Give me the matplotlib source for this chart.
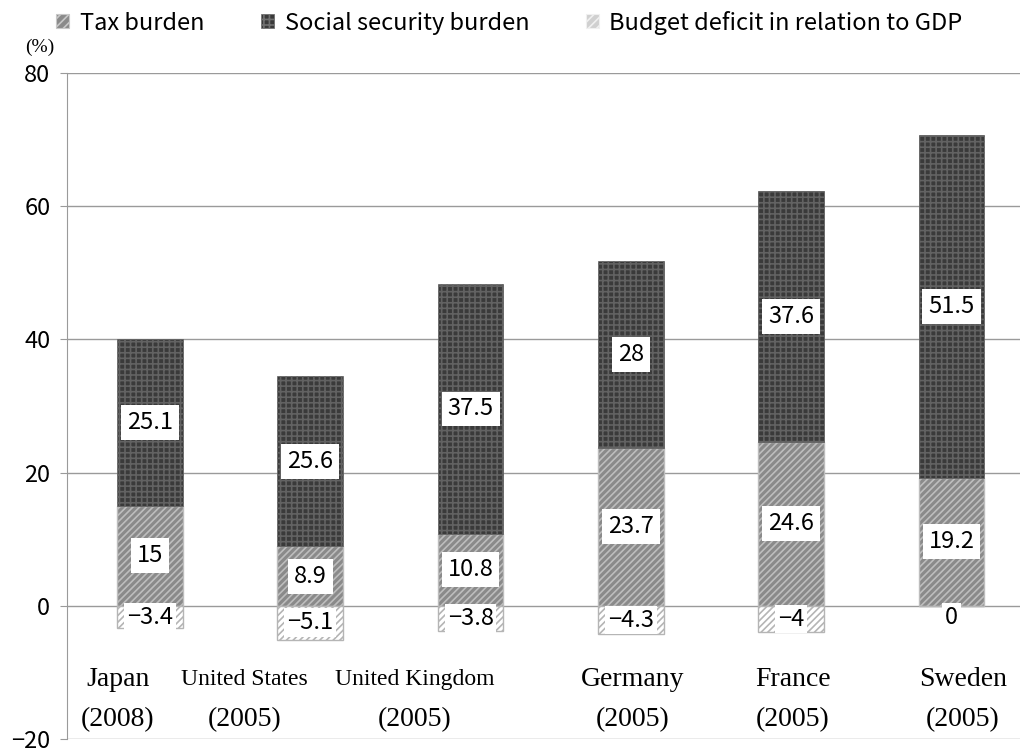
import numpy as np
import matplotlib.pyplot as plt
from matplotlib.patches import Patch

plt.rcParams['font.family'] = ['Noto Sans CJK JP', 'DejaVu Sans']
plt.rcParams['hatch.linewidth'] = 1.2

# Data
countries = ['Japan', 'United States', 'United Kingdom', 'Germany', 'France', 'Sweden']
years = ['(2008)', '(2005)', '(2005)', '(2005)', '(2005)', '(2005)']
tax = [15, 8.9, 10.8, 23.7, 24.6, 19.2]
social = [25.1, 25.6, 37.5, 28, 37.6, 51.5]
deficit = [-3.4, -5.1, -3.8, -4.3, -4, 0]

# label placement (manual, like the original text boxes)
name_dx = [-0.2, -0.41, -0.35, 0.01, 0.01, 0.07]
name_size = [20, 17, 17, 20, 20, 20]

x = np.arange(len(countries))
w = 0.41

fig = plt.figure(figsize=(10.23, 7.51), dpi=100)
ax = fig.add_axes([0.0655, 0.016, 0.932, 0.887])

tax_style = dict(color='#8a8a8a', edgecolor='#bdbdbd', hatch='/////', linewidth=1)
soc_style = dict(color='#3a3a3a', edgecolor='#626262', hatch='+++', linewidth=0.5)
def_style = dict(color='white', edgecolor='#b5b5b5', hatch='/////', linewidth=1)

ax.bar(x, tax, w, zorder=3, **tax_style)
ax.bar(x, social, w, bottom=tax, zorder=3, **soc_style)
ax.bar(x, deficit, w, zorder=3, **def_style)

def fmt(v):
    s = ('%g' % v)
    return s.replace('-', '\u2212')

box = dict(facecolor='white', edgecolor='none', boxstyle='square,pad=0.25')
for i in range(len(x)):
    ax.text(x[i], tax[i] / 2, fmt(tax[i]), ha='center', va='center',
            fontsize=17, bbox=box, zorder=5)
    ax.text(x[i], tax[i] + social[i] / 2, fmt(social[i]), ha='center', va='center',
            fontsize=17, bbox=box, zorder=5)
    ax.text(x[i], min(deficit[i] / 2, -1.8), fmt(deficit[i]), ha='center', va='center',
            fontsize=17, bbox=dict(facecolor='white', edgecolor='none',
                                   boxstyle='square,pad=0.12'), zorder=5)
    ax.text(x[i] + name_dx[i], -11.1, countries[i], ha='center', va='center',
            fontsize=name_size[i], family='Liberation Serif')
    ax.text(x[i] + name_dx[i], -17.1, years[i], ha='center', va='center',
            fontsize=20, family='Liberation Serif')

ax.set_ylim(-20, 80)
ax.set_xlim(-0.518, 5.43)
ax.set_yticks([-20, 0, 20, 40, 60, 80])
ax.set_yticklabels([fmt(v) for v in [-20, 0, 20, 40, 60, 80]], fontsize=17)
ax.set_xticks([])
ax.grid(axis='y', color='#9a9a9a', linewidth=1, zorder=0)
for s in ['top', 'right', 'bottom']:
    ax.spines[s].set_visible(False)
ax.spines['left'].set_color('#9a9a9a')
ax.tick_params(axis='y', length=5, color='#9a9a9a', pad=7)

fig.text(0.039, 0.937, '(%)', fontsize=14, family='Liberation Serif', ha='center', va='center')

handles = [Patch(facecolor='#8a8a8a', edgecolor='#c8c8c8', hatch='////', linewidth=0.8),
           Patch(facecolor='#3a3a3a', edgecolor='#707070', hatch='+++', linewidth=0.5),
           Patch(facecolor='#d0d0d0', edgecolor='#f0f0f0', hatch='////', linewidth=0.8)]
fig.legend(handles, ['Tax burden', 'Social security burden', 'Budget deficit in relation to GDP'],
           loc='center', bbox_to_anchor=(0.498, 0.970), ncol=3, frameon=False,
           fontsize=17, handlelength=0.55, handleheight=0.55, handletextpad=0.45,
           columnspacing=2.4)

fig.savefig('out.png', dpi=100)
